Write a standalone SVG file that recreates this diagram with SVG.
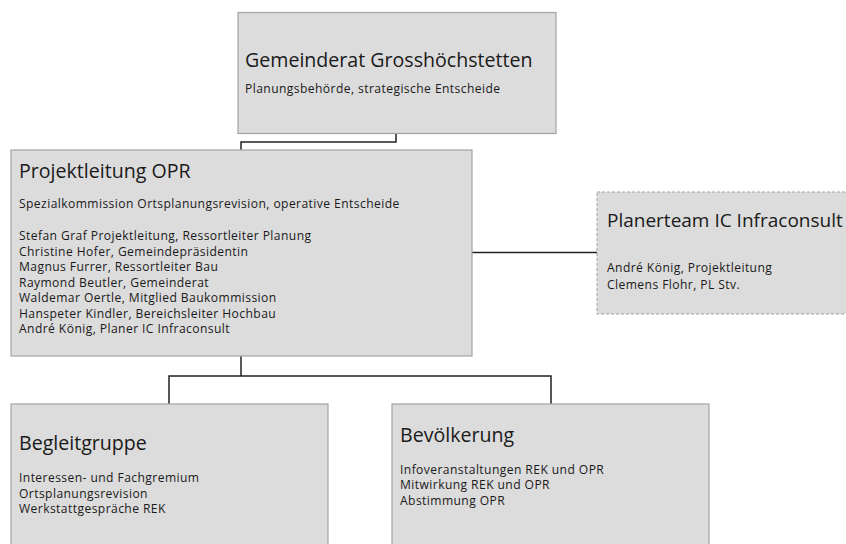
<svg xmlns="http://www.w3.org/2000/svg" width="846" height="544" viewBox="0 0 846 544">
<style>
.box{fill:#dcdcdc;stroke:#a3a3a3;stroke-width:1.2}
.dash{fill:#dcdcdc;stroke:#a0a0a0;stroke-width:1;stroke-dasharray:3 2}
.t{font-family:"Open Sans","Liberation Sans",sans-serif;font-size:19.6px;fill:#1a1a1a}
.s{font-family:"Open Sans","Liberation Sans",sans-serif;font-size:12.1px;letter-spacing:0.42px;fill:#1a1a1a}
.c{fill:none;stroke:#222;stroke-width:1.5}
</style>
<rect width="846" height="544" fill="#fff"/>
<g id="connectors">
<polyline class="c" points="396,133 396,142 241,142 241,150"/>
<line class="c" x1="472" y1="252.5" x2="597" y2="252.5"/>
<polyline class="c" points="241,356 241,376"/>
<polyline class="c" points="169,404 169,376 551,376 551,404"/>
</g>
<g id="gemeinderat">
<rect class="box" x="238" y="12.5" width="318" height="121"/>
<text class="t" x="245" y="67">Gemeinderat Grosshöchstetten</text>
<text class="s" x="245" y="93">Planungsbehörde, strategische Entscheide</text>
</g>
<g id="projektleitung">
<rect class="box" x="11" y="150" width="461" height="206"/>
<text class="t" x="19" y="178">Projektleitung OPR</text>
<text class="s" x="19" y="208">Spezialkommission Ortsplanungsrevision, operative Entscheide</text>
<text class="s" x="19" y="240">Stefan Graf Projektleitung, Ressortleiter Planung</text>
<text class="s" x="19" y="255.5">Christine Hofer, Gemeindepräsidentin</text>
<text class="s" x="19" y="271">Magnus Furrer, Ressortleiter Bau</text>
<text class="s" x="19" y="286.5">Raymond Beutler, Gemeinderat</text>
<text class="s" x="19" y="302">Waldemar Oertle, Mitglied Baukommission</text>
<text class="s" x="19" y="317.5">Hanspeter Kindler, Bereichsleiter Hochbau</text>
<text class="s" x="19" y="333">André König, Planer IC Infraconsult</text>
</g>
<g id="planerteam">
<rect class="dash" x="597" y="192" width="260" height="122"/>
<text class="t" x="607" y="227" style="font-size:19px">Planerteam IC Infraconsult</text>
<text class="s" x="607" y="272">André König, Projektleitung</text>
<text class="s" x="607" y="289">Clemens Flohr, PL Stv.</text>
</g>
<g id="begleitgruppe">
<rect class="box" x="11" y="404" width="317" height="150"/>
<text class="t" x="19" y="450">Begleitgruppe</text>
<text class="s" x="19" y="482">Interessen- und Fachgremium</text>
<text class="s" x="19" y="497.5">Ortsplanungsrevision</text>
<text class="s" x="19" y="513">Werkstattgespräche REK</text>
</g>
<g id="bevoelkerung">
<rect class="box" x="392" y="404" width="317" height="150"/>
<text class="t" x="400" y="442">Bevölkerung</text>
<text class="s" x="400" y="473.5">Infoveranstaltungen REK und OPR</text>
<text class="s" x="400" y="489">Mitwirkung REK und OPR</text>
<text class="s" x="400" y="505">Abstimmung OPR</text>
</g>
</svg>
